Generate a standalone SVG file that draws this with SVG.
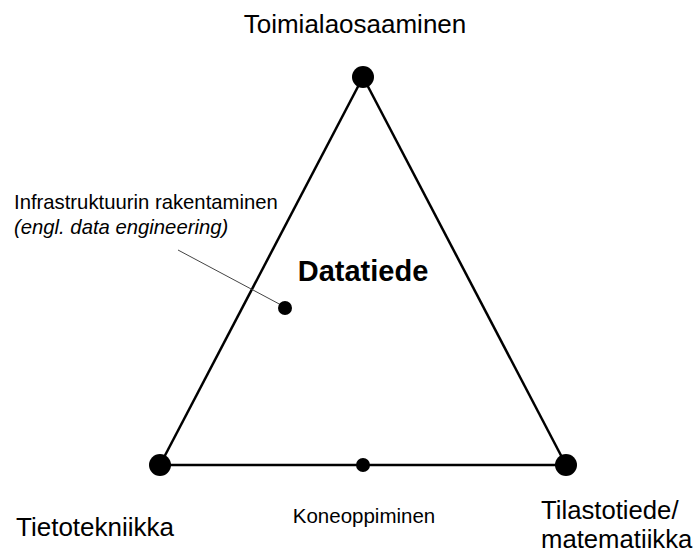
<svg xmlns="http://www.w3.org/2000/svg" width="697" height="553" viewBox="0 0 697 553">
  <style>
    text { font-family: "Liberation Sans", Arial, sans-serif; fill: #000; }
    .edge { stroke: #000; stroke-width: 2.5; fill: none; }
    .leader { stroke: #444; stroke-width: 1; fill: none; }
    .big { font-size: 26px; }
  </style>
  <rect width="697" height="553" fill="#fff"/>
  <g id="connectors">
    <line class="edge" x1="363" y1="77" x2="160" y2="465"/>
    <line class="edge" x1="363" y1="77" x2="566" y2="465"/>
    <line class="edge" x1="160" y1="465" x2="566" y2="465"/>
    <line class="leader" x1="178" y1="250" x2="283" y2="306"/>
  </g>
  <g id="toimialaosaaminen">
    <circle cx="363" cy="77" r="11"/>
    <text class="big" x="355" y="33" text-anchor="middle">Toimialaosaaminen</text>
  </g>
  <g id="tietotekniikka">
    <circle cx="160" cy="465" r="11"/>
    <text class="big" x="16" y="536">Tietotekniikka</text>
  </g>
  <g id="tilastotiede">
    <circle cx="566" cy="465" r="11"/>
    <text x="541" y="519" font-size="25.7">Tilastotiede/</text>
    <text x="541" y="548" font-size="25.7">matematiikka</text>
  </g>
  <g id="koneoppiminen">
    <circle cx="363" cy="465" r="7"/>
    <text x="364" y="523" font-size="20.5" text-anchor="middle">Koneoppiminen</text>
  </g>
  <g id="infrastruktuuri">
    <circle cx="285" cy="308" r="7"/>
    <text x="14" y="209" font-size="20.3">Infrastruktuurin rakentaminen</text>
    <text x="14" y="234" font-size="20.3" font-style="italic">(engl. data engineering)</text>
  </g>
  <g id="datatiede">
    <text x="363" y="281" font-size="29" font-weight="bold" text-anchor="middle">Datatiede</text>
  </g>
</svg>
